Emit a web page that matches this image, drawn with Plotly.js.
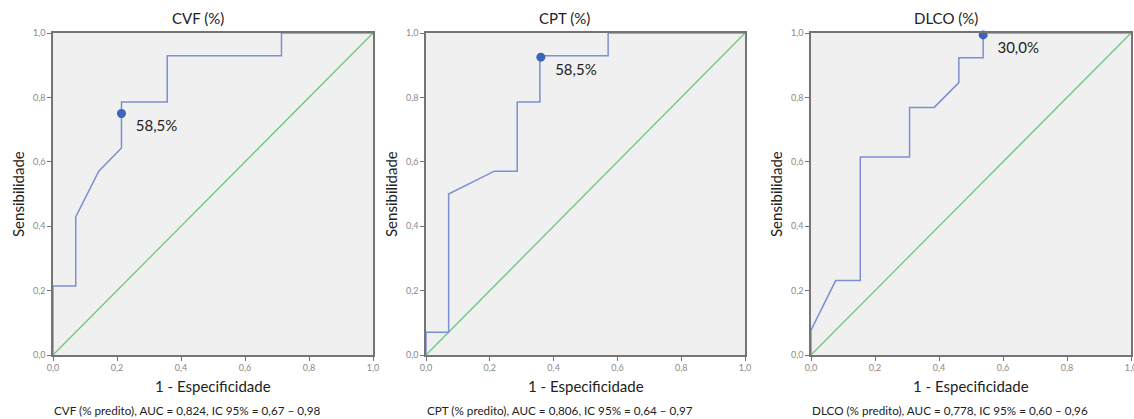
<!DOCTYPE html>
<html>
<head>
<meta charset="utf-8">
<script src="https://cdn.plot.ly/plotly-3.0.1.min.js"></script>
<style>
  html, body { margin: 0; padding: 0; background: #ffffff; overflow: hidden; }
  #chart { width: 1134px; height: 419px; }
</style>
</head>
<body>
<div id="chart"></div>
<script>
// ROC curves: 1 - specificity (x) vs sensitivity (y)
const panelTitles = ["CVF (%)", "CPT (%)", "DLCO (%)"];
const captions = [
  "CVF (% predito), AUC = 0,824, IC 95% = 0,67 \u2013 0,98",
  "CPT (% predito), AUC = 0,806, IC 95% = 0,64 \u2013 0,97",
  "DLCO (% predito), AUC = 0,778, IC 95% = 0,60 \u2013 0,96"
];

const cvfFpr = [0, 0, 0.071, 0.071, 0.143, 0.214, 0.214, 0.357, 0.357, 0.714, 0.714, 1];
const cvfTpr = [0, 0.214, 0.214, 0.429, 0.571, 0.643, 0.786, 0.786, 0.929, 0.929, 1, 1];

const cptFpr = [0, 0, 0.071, 0.071, 0.214, 0.286, 0.286, 0.357, 0.357, 0.571, 0.571, 1];
const cptTpr = [0, 0.071, 0.071, 0.5, 0.571, 0.571, 0.786, 0.786, 0.929, 0.929, 1, 1];

const dlcoFpr = [0, 0, 0.077, 0.154, 0.154, 0.308, 0.308, 0.385, 0.462, 0.462, 0.538, 0.538, 1];
const dlcoTpr = [0, 0.077, 0.231, 0.231, 0.615, 0.615, 0.769, 0.769, 0.846, 0.923, 0.923, 1, 1];

// Chosen cut-off point on each curve and its label
const cutFpr = [0.214, 0.36, 0.538];
const cutTpr = [0.75, 0.925, 0.994];
const cutLabels = ["58,5%", "58,5%", "30,0%"];

// Reference (chance) line
const refX = [0, 1];
const refY = [0, 1];

const tickVals = [0, 0.2, 0.4, 0.6, 0.8, 1.0];

const curvesX = [cvfFpr, cptFpr, dlcoFpr];
const curvesY = [cvfTpr, cptTpr, dlcoTpr];

const W = 1134, H = 419;
const xPix = [[53, 373], [426, 745], [811, 1131]];
const titleCenters = [198, 564, 946];
const yDom = [(H - 355) / H, (H - 33) / H];

const curveColor = "#7d8fd2";
const refColor = "#6cc97c";
const dotColor = "#3d64b9";
const axisColor = "#747474";
const FONT = "Lato, 'Open Sans', sans-serif";

const traces = [];
const annotations = [];
const layout = {
  width: W, height: H,
  margin: {l: 0, r: 0, t: 0, b: 0},
  paper_bgcolor: "#ffffff",
  plot_bgcolor: "#f0f0f0",
  showlegend: false,
  separators: ",.",
  font: {family: FONT, color: "#222"}
};

for (let i = 0; i < 3; i++) {
  const sfx = i === 0 ? "" : String(i + 1);
  const xa = "x" + sfx, ya = "y" + sfx;
  const dom = [xPix[i][0] / W, xPix[i][1] / W];
  const axisCommon = {
    range: [0, 1],
    tickvals: tickVals,
    tickformat: ".1f",
    ticks: "outside",
    ticklen: 4,
    tickwidth: 1,
    tickcolor: axisColor,
    showline: true,
    linecolor: axisColor,
    linewidth: 1.6,
    mirror: true,
    showgrid: false,
    zeroline: false,
    ticklabeloverflow: "allow",
    tickfont: {family: FONT, size: 9, color: "#8a8a8a"},
    fixedrange: true
  };
  layout["xaxis" + sfx] = Object.assign({}, axisCommon, {domain: dom, anchor: ya});
  layout["yaxis" + sfx] = Object.assign({}, axisCommon, {domain: yDom, anchor: xa});

  traces.push({
    x: refX, y: refY, xaxis: xa, yaxis: ya,
    mode: "lines", line: {color: refColor, width: 1.3},
    hoverinfo: "skip"
  });
  traces.push({
    x: curvesX[i], y: curvesY[i], xaxis: xa, yaxis: ya,
    mode: "lines", line: {color: curveColor, width: 1.5},
    cliponaxis: false
  });
  traces.push({
    x: [cutFpr[i]], y: [cutTpr[i]], xaxis: xa, yaxis: ya,
    mode: "markers+text",
    marker: {color: dotColor, size: 9},
    text: ["  " + cutLabels[i]],
    textposition: "bottom right",
    textfont: {family: FONT, size: 15, color: "#222"},
    cliponaxis: false
  });

  const cx = (dom[0] + dom[1]) / 2;
  annotations.push({
    text: panelTitles[i], xref: "paper", yref: "paper",
    x: titleCenters[i] / W, y: (H - 18) / H, xanchor: "center", yanchor: "middle",
    showarrow: false, font: {family: FONT, size: 15, color: "#222"}
  });
  annotations.push({
    text: "1 - Especificidade", xref: "paper", yref: "paper",
    x: cx, y: (H - 386) / H, xanchor: "center", yanchor: "middle",
    showarrow: false, font: {family: FONT, size: 15, color: "#222"}
  });
  annotations.push({
    text: "Sensibilidade", xref: "paper", yref: "paper",
    x: (xPix[i][0] - 35) / W, y: (H - 194) / H, xanchor: "center", yanchor: "middle",
    textangle: -90,
    showarrow: false, font: {family: FONT, size: 15, color: "#222"}
  });
  annotations.push({
    text: captions[i], xref: "paper", yref: "paper",
    x: (xPix[i][0] - 1) / W, y: (H - 410) / H, xanchor: "left", yanchor: "middle",
    showarrow: false, font: {family: FONT, size: 11.7, color: "#222"}
  });
}
layout.annotations = annotations;

Plotly.newPlot("chart", traces, layout, {displayModeBar: false, staticPlot: true});
</script>
</body>
</html>
